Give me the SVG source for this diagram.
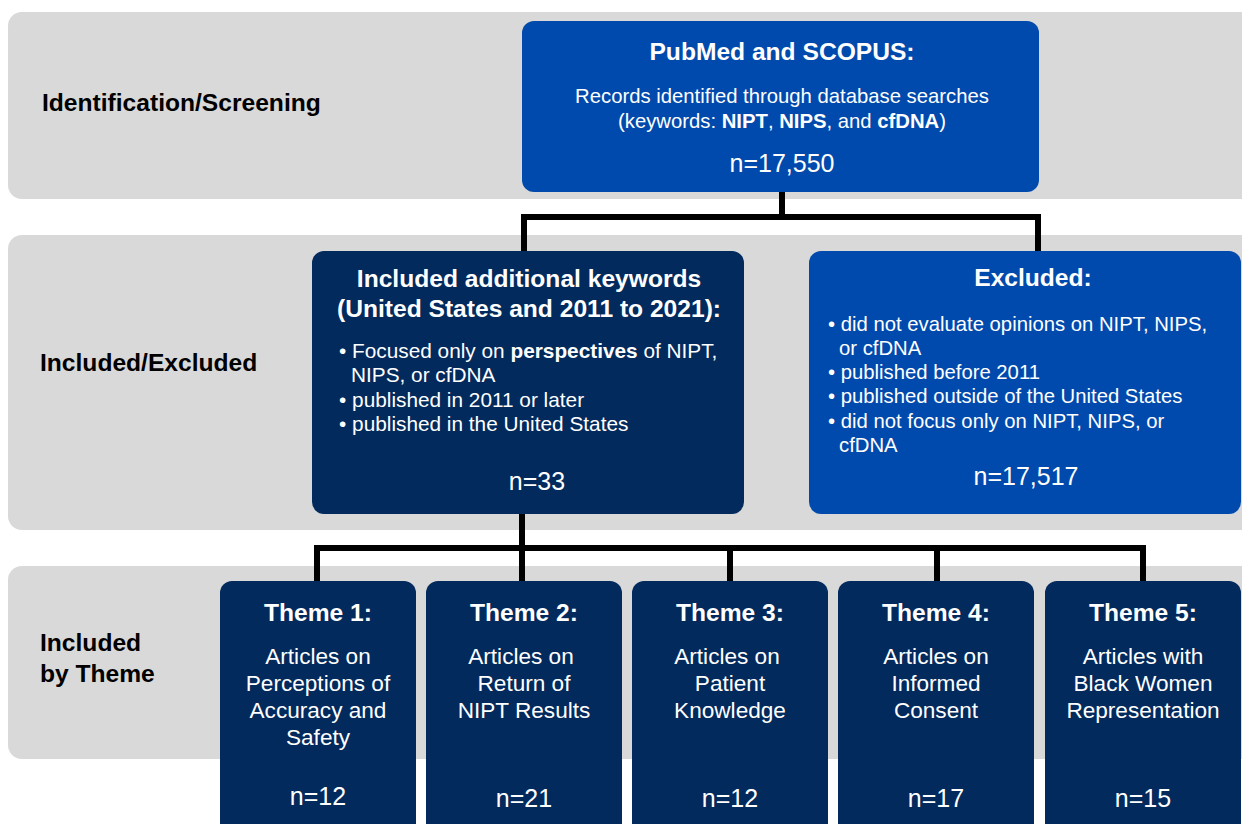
<svg xmlns="http://www.w3.org/2000/svg" width="1242" height="824" viewBox="0 0 1242 824">
<style>
text{font-family:"Liberation Sans",Arial,sans-serif;fill:#fff}
.band{fill:#d9d9d9}
.blue{fill:#014aad}
.navy{fill:#022a5d}
.lab{fill:#000;font-weight:bold;font-size:24.6px}
.ttl{font-weight:bold;font-size:24.6px;text-anchor:middle}
.body{font-size:20.3px}
.inc{font-size:20.8px}
.mid{text-anchor:middle}
.n{font-size:25px;text-anchor:middle}
.th{font-size:22.6px;text-anchor:middle}
.conn{fill:none;stroke:#000;stroke-width:6;stroke-linejoin:miter}
</style>
<g id="bands">
<rect class="band" x="8" y="12" width="1260" height="187" rx="14"/>
<rect class="band" x="8" y="235" width="1260" height="295" rx="14"/>
<rect class="band" x="8" y="566" width="1260" height="193" rx="14"/>
<text class="lab" x="42" y="111">Identification/Screening</text>
<text class="lab" x="40" y="371">Included/Excluded</text>
<text class="lab" x="40" y="651">Included</text>
<text class="lab" x="40" y="682">by Theme</text>
</g>
<g id="connectors">
<path class="conn" d="M782 192V217M524 251V217H1038V251"/>
<path class="conn" d="M522 514V548M317 581V548H1143V581M522 548V581M730 548V581M937 548V581"/>
</g>
<g id="search">
<rect class="blue" x="522" y="21" width="517" height="171" rx="12"/>
<text class="ttl" x="782" y="60">PubMed and SCOPUS:</text>
<text class="body mid" x="782" y="103">Records identified through database searches</text>
<text class="body mid" x="782" y="128">(keywords: <tspan font-weight="bold">NIPT</tspan>, <tspan font-weight="bold">NIPS</tspan>, and <tspan font-weight="bold">cfDNA</tspan>)</text>
<text class="n" x="782" y="172" font-size="27">n=17,550</text>
</g>
<g id="included">
<rect class="navy" x="312" y="251" width="432" height="263" rx="12"/>
<text class="ttl" x="529" y="287">Included additional keywords</text>
<text class="ttl" x="529" y="317">(United States and 2011 to 2021):</text>
<text class="inc" x="339" y="358">• Focused only on <tspan font-weight="bold">perspectives</tspan> of NIPT,</text>
<text class="inc" x="351" y="382">NIPS, or cfDNA</text>
<text class="inc" x="339" y="407">• published in 2011 or later</text>
<text class="inc" x="339" y="431">• published in the United States</text>
<text class="n" x="537" y="490">n=33</text>
</g>
<g id="excluded">
<rect class="blue" x="809" y="251" width="432" height="263" rx="12"/>
<text class="ttl" x="1033" y="286">Excluded:</text>
<text class="body" x="828" y="331">• did not evaluate opinions on NIPT, NIPS,</text>
<text class="body" x="839" y="355">or cfDNA</text>
<text class="body" x="828" y="379">• published before 2011</text>
<text class="body" x="828" y="403">• published outside of the United States</text>
<text class="body" x="828" y="428">• did not focus only on NIPT, NIPS, or</text>
<text class="body" x="839" y="452">cfDNA</text>
<text class="n" x="1026" y="485" font-size="26.5">n=17,517</text>
</g>
<g id="theme1">
<rect class="navy" x="220" y="581" width="196" height="260" rx="12"/>
<text class="ttl" x="318" y="621">Theme 1:</text>
<text class="th" x="318" y="664">Articles on</text>
<text class="th" x="318" y="691">Perceptions of</text>
<text class="th" x="318" y="718">Accuracy and</text>
<text class="th" x="318" y="745">Safety</text>
<text class="n" x="318" y="805">n=12</text>
</g>
<g id="theme2">
<rect class="navy" x="426" y="581" width="196" height="260" rx="12"/>
<text class="ttl" x="524" y="621">Theme 2:</text>
<text class="th" x="521" y="664">Articles on</text>
<text class="th" x="524" y="691">Return of</text>
<text class="th" x="524" y="718">NIPT Results</text>
<text class="n" x="524" y="807">n=21</text>
</g>
<g id="theme3">
<rect class="navy" x="632" y="581" width="196" height="260" rx="12"/>
<text class="ttl" x="730" y="621">Theme 3:</text>
<text class="th" x="727" y="664">Articles on</text>
<text class="th" x="730" y="691">Patient</text>
<text class="th" x="730" y="718">Knowledge</text>
<text class="n" x="730" y="807">n=12</text>
</g>
<g id="theme4">
<rect class="navy" x="838" y="581" width="196" height="260" rx="12"/>
<text class="ttl" x="936" y="621">Theme 4:</text>
<text class="th" x="936" y="664">Articles on</text>
<text class="th" x="936" y="691">Informed</text>
<text class="th" x="936" y="718">Consent</text>
<text class="n" x="936" y="807">n=17</text>
</g>
<g id="theme5">
<rect class="navy" x="1045" y="581" width="196" height="260" rx="12"/>
<text class="ttl" x="1143" y="621">Theme 5:</text>
<text class="th" x="1143" y="664">Articles with</text>
<text class="th" x="1143" y="691">Black Women</text>
<text class="th" x="1143" y="718">Representation</text>
<text class="n" x="1143" y="807">n=15</text>
</g>
</svg>
